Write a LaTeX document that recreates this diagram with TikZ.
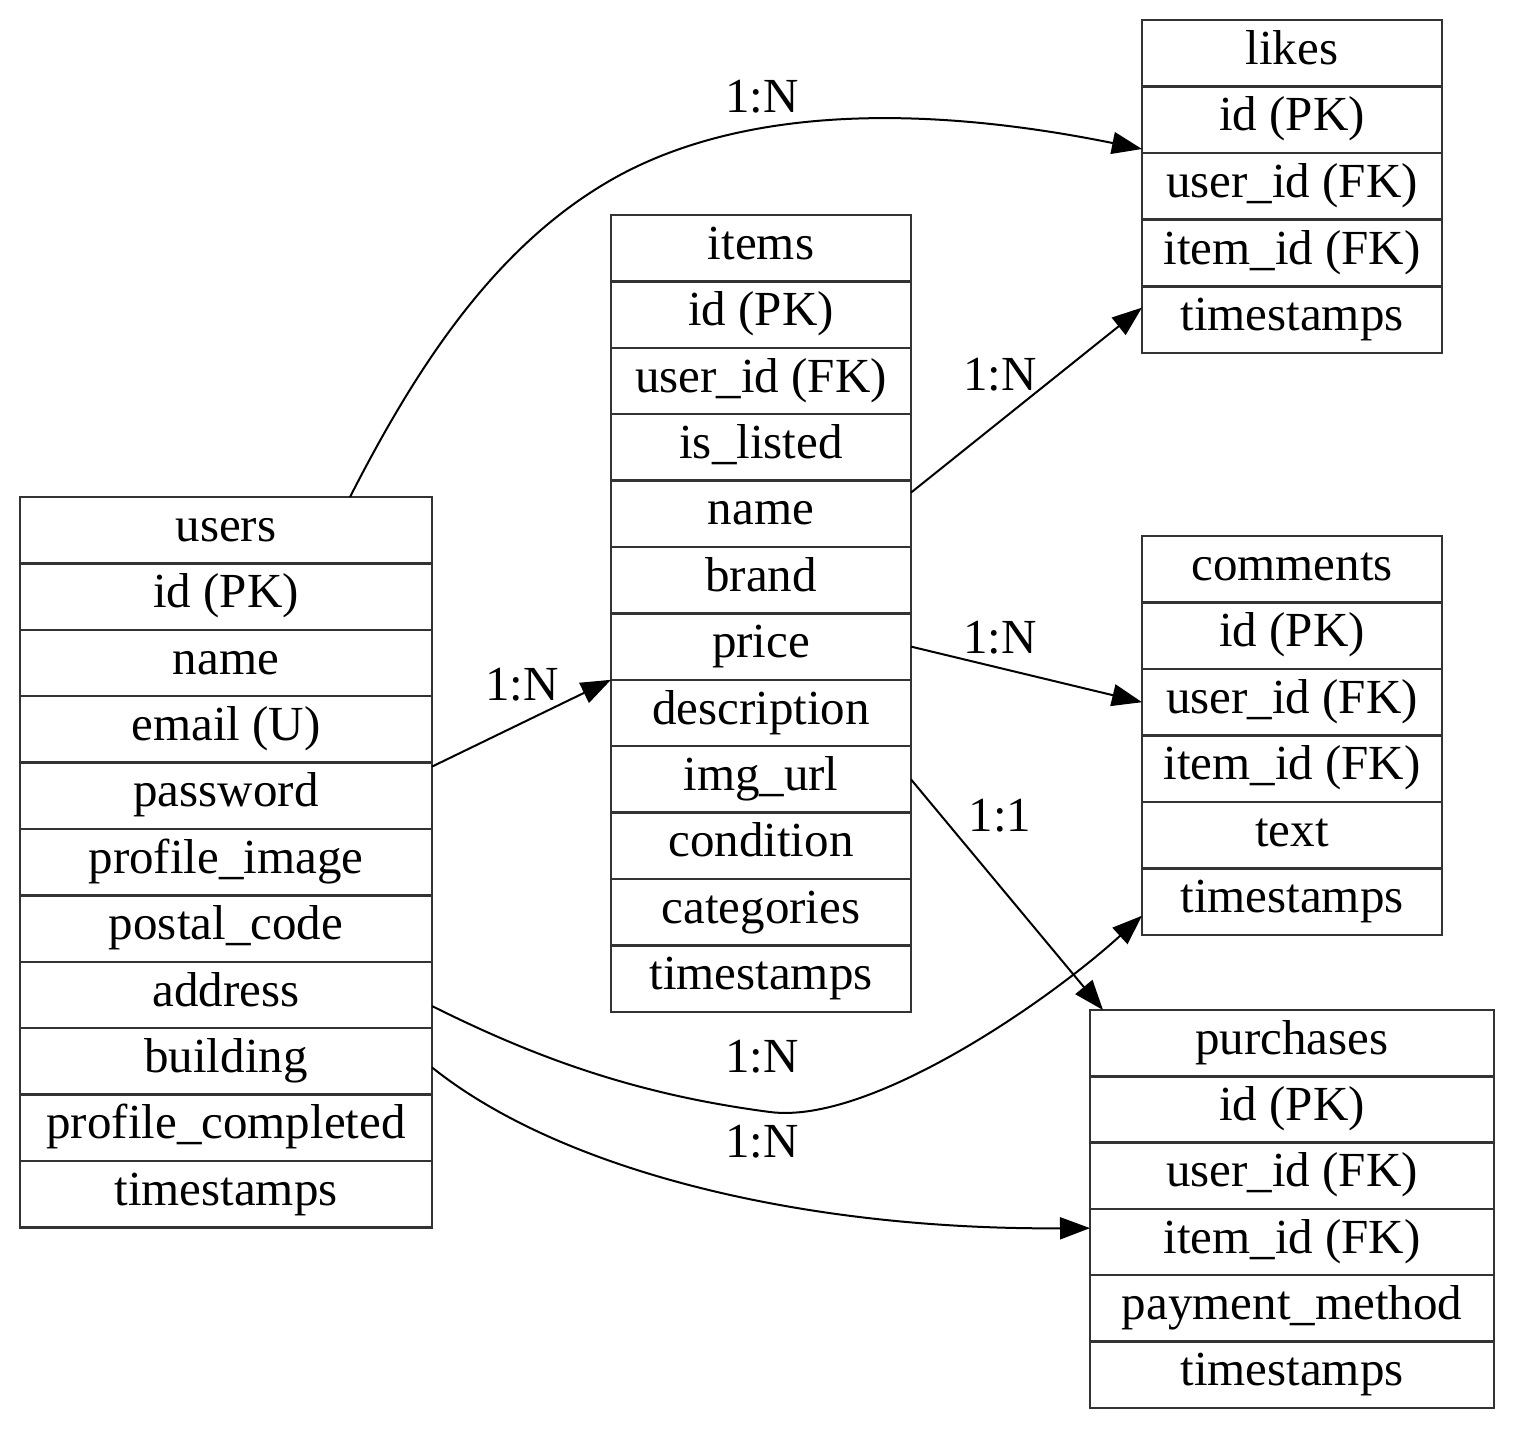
\documentclass[tikz,border=0pt]{standalone}
\usepackage{fontspec}
\setmainfont{Liberation Serif}
\usetikzlibrary{arrows.meta}

\begin{document}
\begin{tikzpicture}[x=0.5pt,y=-0.5pt,
    row/.style={draw=black!80, line width=1.2pt, fill=white, inner sep=0pt, outer sep=0pt,
        minimum height=33.2pt, text height=17pt, text depth=6pt, anchor=north,
        font=\fontsize{24.5}{29}\selectfont},
    rel/.style={draw=black, line width=1pt, -{Triangle[length=15pt,width=11pt]}},
    card/.style={font=\fontsize{24.5}{29}\selectfont}]
    \useasboundingbox (0,0) rectangle (1520,1430);

    % tables
    \foreach \t [count=\i from 0] in {users,id (PK),name,email (U),password,profile\_image,postal\_code,address,building,profile\_completed,timestamps}
        \node[row, minimum width=206pt] (users-\i) at (226,497+66.4*\i) {\t};
    \foreach \t [count=\i from 0] in {items,id (PK),user\_id (FK),is\_listed,name,brand,price,description,img\_url,condition,categories,timestamps}
        \node[row, minimum width=150pt] (items-\i) at (761,215+66.4*\i) {\t};
    \foreach \t [count=\i from 0] in {likes,id (PK),user\_id (FK),item\_id (FK),timestamps}
        \node[row, minimum width=150pt] (likes-\i) at (1292,20+66.6*\i) {\t};
    \foreach \t [count=\i from 0] in {comments,id (PK),user\_id (FK),item\_id (FK),text,timestamps}
        \node[row, minimum width=150pt] (comments-\i) at (1292,536+66.5*\i) {\t};
    \foreach \t [count=\i from 0] in {purchases,id (PK),user\_id (FK),item\_id (FK),payment\_method,timestamps}
        \node[row, minimum width=202pt] (purchases-\i) at (1292,1010+66.3*\i) {\t};

    % relations
    \draw[rel] ([xshift=-41pt]users-0.north east) .. controls (420,360) and (500,240) .. (620,175)
        .. controls (760,100) and (950,110) .. ([yshift=2pt]likes-1.south west);
    \draw[rel] ([yshift=-2pt]users-4.north east) -- (items-7.north west);
    \draw[rel] ([yshift=-6pt]items-4.north east) -- ([yshift=6pt]likes-4.west);
    \draw[rel] (items-6.east) -- (comments-2.west);
    \draw[rel] (items-8.east) -- ([xshift=6.5pt]purchases-0.north west);
    \draw[rel] ([yshift=-5.5pt]users-7.east) .. controls (540,1060) and (640,1095) .. (770,1112)
        .. controls (870,1125) and (1050,1000) .. ([yshift=-7pt]comments-5.west);
    \draw[rel] ([yshift=-3pt]users-8.east) .. controls (560,1170) and (800,1230) .. ([yshift=7pt]purchases-3.west);

    % cardinalities
    \node[card] (c-likes) at (762,97) {1:N};
    \node[card] (c-items) at (522,685) {1:N};
    \node[card] (c-itemlikes) at (1000,375) {1:N};
    \node[card] (c-itemcomments) at (1000,638) {1:N};
    \node[card] (c-itempurchases) at (1000,816) {1:1};
    \node[card] (c-comments) at (762,1057) {1:N};
    \node[card] (c-purchases) at (762,1142) {1:N};
\end{tikzpicture}
\end{document}
